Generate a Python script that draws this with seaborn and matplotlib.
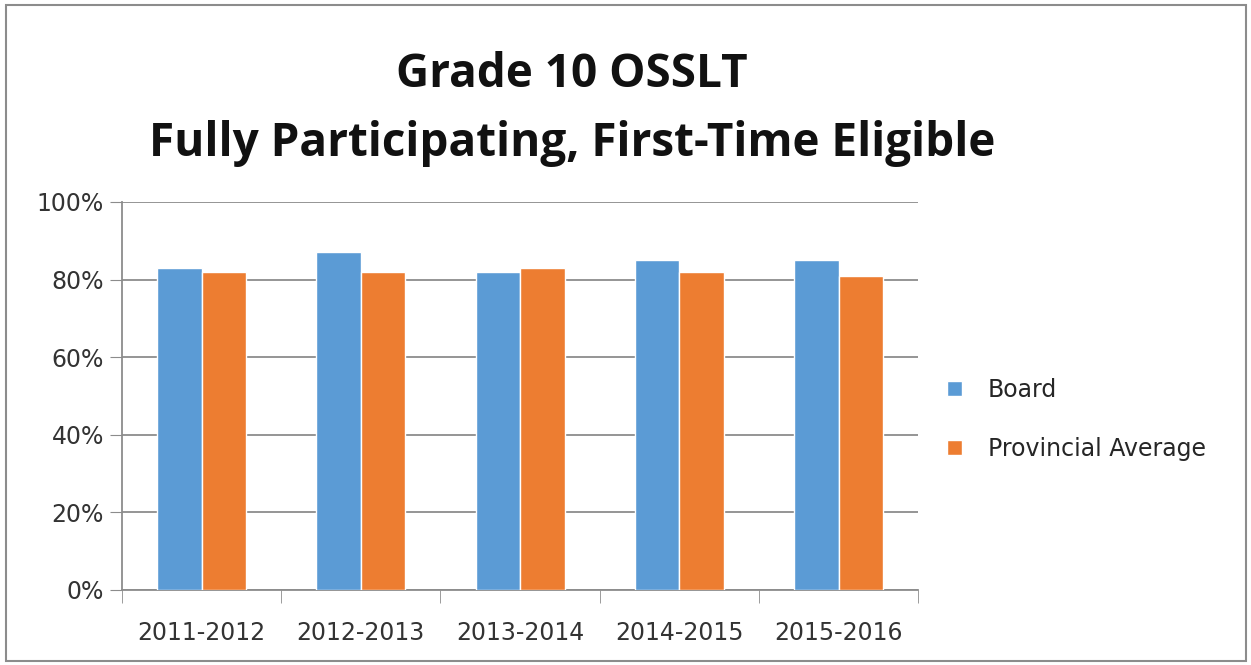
import matplotlib
matplotlib.use("Agg")
import matplotlib.pyplot as plt
import matplotlib.ticker as mticker
from matplotlib.patches import Rectangle
import numpy as np
import pandas as pd
import seaborn as sns

years = ["2011-2012", "2012-2013", "2013-2014", "2014-2015", "2015-2016"]
board = [0.83, 0.87, 0.82, 0.85, 0.85]
provincial = [0.82, 0.82, 0.83, 0.82, 0.81]
series_names = ["Board", "Provincial Average"]

df = pd.DataFrame({
    "Year": years * 2,
    "Value": board + provincial,
    "Series": [series_names[0]] * len(years) + [series_names[1]] * len(years),
})

sns.set_style("white")
plt.rcParams["font.family"] = ["DejaVu Sans"]

fig = plt.figure(figsize=(12.51, 6.65), dpi=100)
ax = fig.add_axes([0.0975, 0.1128, 0.6365, 0.5835])

sns.barplot(data=df, x="Year", y="Value", hue="Series",
            palette=["#5B9BD5", "#ED7D31"], width=0.56, saturation=1,
            ax=ax, zorder=3)

ax.set_ylim(0, 1)
ax.set_xlim(-0.5, len(years) - 0.5)
ax.yaxis.set_major_locator(mticker.MultipleLocator(0.2))
ax.yaxis.set_major_formatter(mticker.PercentFormatter(1.0, decimals=0))
ax.grid(axis="y", color="#8c8c8c", linewidth=1.3, zorder=0)
ax.set_xlabel("")
ax.set_ylabel("")

for s in ["top", "right"]:
    ax.spines[s].set_visible(False)
for s in ["left", "bottom"]:
    ax.spines[s].set_color("#8c8c8c")
    ax.spines[s].set_linewidth(1.3)

ax.tick_params(axis="y", which="major", length=9, color="#8c8c8c",
               labelsize=17, labelcolor="#333333", pad=4, left=True)
ax.tick_params(axis="x", which="major", length=0, labelsize=17,
               labelcolor="#333333", pad=22)
ax.set_xticks(np.arange(-0.5, len(years)), minor=True)
ax.tick_params(axis="x", which="minor", length=9, color="#8c8c8c",
               bottom=True, direction="out")

ax.legend(loc="center left", bbox_to_anchor=(1.01, 0.44), frameon=False,
          fontsize=17, handlelength=0.6, handleheight=0.6,
          labelspacing=1.5, handletextpad=1.1)

fig.text(0.457, 0.888, "Grade 10 OSSLT", ha="center", va="center",
         fontsize=33, fontweight="bold", color="#111111",
         family=["Open Sans", "DejaVu Sans"])
fig.text(0.457, 0.784, "Fully Participating, First-Time Eligible",
         ha="center", va="center", fontsize=33, fontweight="bold",
         color="#111111", family=["Open Sans", "DejaVu Sans"])

fig.patches.append(Rectangle((0.005, 0.006), 0.991, 0.986,
                             transform=fig.transFigure, fill=False,
                             edgecolor="#8c8c8c", linewidth=1.5))

fig.savefig("out.png", dpi=100)
